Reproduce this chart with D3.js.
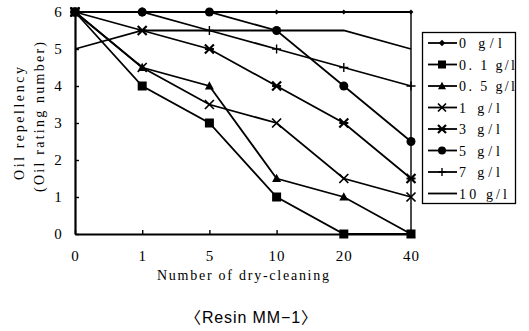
<!DOCTYPE html>
<html>
<head>
<meta charset="utf-8">
<script src="https://cdn.jsdelivr.net/npm/d3@7"></script>
<style>
  body { margin: 0; background: #fff; }
</style>
</head>
<body>
<div id="chart"></div>
<script>
///////////////////////////////////////////////////////////////////////////
// Data
///////////////////////////////////////////////////////////////////////////
const cleanings = ["0", "1", "5", "10", "20", "40"];
const yTicks = [0, 1, 2, 3, 4, 5, 6];

const seriesNames = ["0 g/l", "0. 1 g/l", "0. 5 g/l", "1 g/l", "3 g/l", "5 g/l", "7 g/l", "10 g/l"];
const seriesMarkers = ["diamond", "square", "triangle", "times", "asterisk", "circle", "plus", "none"];
const labelWidths = [43, 56, 56, 41, 41, 41, 41, 48];

const conc0  = [6, 6, 6, 6, 6, 6];
const conc01 = [6, 4, 3, 1, 0, 0];
const conc05 = [6, 4.5, 4, 1.5, 1, 0];
const conc1  = [6, 4.5, 3.5, 3, 1.5, 1];
const conc3  = [6, 5.5, 5, 4, 3, 1.5];
const conc5  = [6, 6, 6, 5.5, 4, 2.5];
const conc7  = [6, 6, 5.5, 5, 4.5, 4];
const conc10 = [5, 5.5, 5.5, 5.5, 5.5, 5];

const seriesValues = [conc0, conc01, conc05, conc1, conc3, conc5, conc7, conc10];

///////////////////////////////////////////////////////////////////////////
// SVG
///////////////////////////////////////////////////////////////////////////
const width = 529, height = 331;
const plot = { left: 75, right: 411, top: 12, bottom: 234 };
const serif = "'Liberation Serif', 'DejaVu Serif', serif";

const svg = d3.select("#chart").append("svg")
  .attr("width", width)
  .attr("height", height)
  .style("background", "#fff");

const x = d3.scalePoint().domain(cleanings).range([plot.left, plot.right]);
const y = d3.scaleLinear().domain([0, 6]).range([plot.bottom, plot.top]);

// frame: thin top / right
svg.append("path")
  .attr("d", `M${plot.left},${plot.top}H${plot.right}V${plot.bottom}`)
  .attr("fill", "none")
  .attr("stroke", "#000")
  .attr("stroke-width", 1.4);

// axes
const yAxis = svg.append("g")
  .attr("transform", `translate(${plot.left},0)`)
  .call(d3.axisLeft(y).tickValues(yTicks).tickFormat(d3.format("d")).tickSize(-4).tickSizeOuter(0).tickPadding(11));

const xAxis = svg.append("g")
  .attr("transform", `translate(0,${plot.bottom})`)
  .call(d3.axisBottom(x).tickSize(-4).tickSizeOuter(0).tickPadding(16));

[yAxis, xAxis].forEach(ax => {
  ax.select(".domain").attr("stroke-width", 2.2);
  ax.selectAll(".tick line").attr("stroke-width", 1.4);
  ax.selectAll(".tick text")
    .attr("font-family", serif)
    .attr("font-size", "15px")
    .attr("fill", "#000");
});
yAxis.selectAll(".tick text").attr("text-anchor", "middle").attr("x", -17);
xAxis.selectAll(".tick text").attr("letter-spacing", "1px");

///////////////////////////////////////////////////////////////////////////
// Markers
///////////////////////////////////////////////////////////////////////////
function drawMarker(g, type, s) {
  if (type === "square") {
    g.append("rect").attr("x", -s).attr("y", -s).attr("width", 2 * s).attr("height", 2 * s).attr("fill", "#000");
  } else if (type === "circle") {
    g.append("circle").attr("r", s).attr("fill", "#000");
  } else if (type === "diamond") {
    const d = s * 0.8;
    g.append("path").attr("d", `M0,${-d}L${d},0L0,${d}L${-d},0Z`).attr("fill", "#000");
  } else if (type === "triangle") {
    g.append("path").attr("d", `M0,${-s * 1.05}L${s},${s * 0.8}L${-s},${s * 0.8}Z`).attr("fill", "#000");
  } else if (type === "times") {
    g.append("path").attr("d", `M${-s},${-s}L${s},${s}M${-s},${s}L${s},${-s}`)
      .attr("stroke", "#000").attr("stroke-width", 1.7);
  } else if (type === "asterisk") {
    g.append("path").attr("d", `M${-s},${-s}L${s},${s}M${-s},${s}L${s},${-s}M${-s},0H${s}`)
      .attr("stroke", "#000").attr("stroke-width", 2.2);
  } else if (type === "plus") {
    g.append("path").attr("d", `M${-s},0H${s}M0,${-s}V${s}`)
      .attr("stroke", "#000").attr("stroke-width", 1.4);
  }
}

///////////////////////////////////////////////////////////////////////////
// Lines
///////////////////////////////////////////////////////////////////////////
const line = d3.line()
  .x((d, i) => x(cleanings[i]))
  .y(d => y(d));

seriesValues.forEach(vals => {
  svg.append("path")
    .attr("d", line(vals))
    .attr("fill", "none")
    .attr("stroke", "#000")
    .attr("stroke-width", 1.8);
});

// markers drawn back to front so the square sits on top at the start
d3.range(seriesValues.length).reverse().forEach(k => {
  seriesValues[k].forEach((v, i) => {
    const g = svg.append("g").attr("transform", `translate(${x(cleanings[i])},${y(v)})`);
    // the diamonds on the top line are barely visible in the scan
    drawMarker(g, seriesMarkers[k], seriesMarkers[k] === "diamond" ? 3 : 4.5);
  });
});

///////////////////////////////////////////////////////////////////////////
// Axis titles
///////////////////////////////////////////////////////////////////////////
svg.append("text")
  .attr("transform", "translate(24,123.5) rotate(-90)")
  .attr("text-anchor", "middle")
  .attr("font-family", serif)
  .attr("font-size", "14px")
  .attr("textLength", 113)
  .attr("lengthAdjust", "spacing")
  .text("Oil repellency");

svg.append("text")
  .attr("transform", "translate(44,117) rotate(-90)")
  .attr("text-anchor", "middle")
  .attr("font-family", serif)
  .attr("font-size", "14px")
  .attr("textLength", 150)
  .attr("lengthAdjust", "spacing")
  .text("(Oil rating number)");

svg.append("text")
  .attr("x", 157)
  .attr("y", 280)
  .attr("font-family", serif)
  .attr("font-size", "14px")
  .attr("textLength", 172)
  .attr("lengthAdjust", "spacing")
  .text("Number of dry-cleaning");

svg.append("text")
  .attr("x", 185)
  .attr("y", 323)
  .attr("font-family", "'Liberation Sans', Arial, 'Noto Sans CJK JP', sans-serif")
  .attr("font-size", "16px")
  .attr("textLength", 132)
  .attr("lengthAdjust", "spacing")
  .text("〈Resin MM−1〉");

///////////////////////////////////////////////////////////////////////////
// Legend
///////////////////////////////////////////////////////////////////////////
const legend = svg.append("g");
legend.append("rect")
  .attr("x", 422.5).attr("y", 32.5)
  .attr("width", 93).attr("height", 171)
  .attr("fill", "#fff")
  .attr("stroke", "#000")
  .attr("stroke-width", 1.3);

const ly = d3.scalePoint().domain(seriesNames).range([43, 193.5]);

seriesNames.forEach((name, k) => {
  const row = legend.append("g").attr("transform", `translate(0,${ly(name)})`);
  row.append("line")
    .attr("x1", 428).attr("x2", 457)
    .attr("stroke", "#000").attr("stroke-width", 1.8);
  drawMarker(row.append("g").attr("transform", "translate(442,0)"), seriesMarkers[k], 4);
  row.append("text")
    .attr("x", 459)
    .attr("y", 5)
    .attr("font-family", serif)
    .attr("font-size", "14px")
    .attr("textLength", labelWidths[k])
    .attr("lengthAdjust", "spacing")
    .text(name);
});
</script>
</body>
</html>
